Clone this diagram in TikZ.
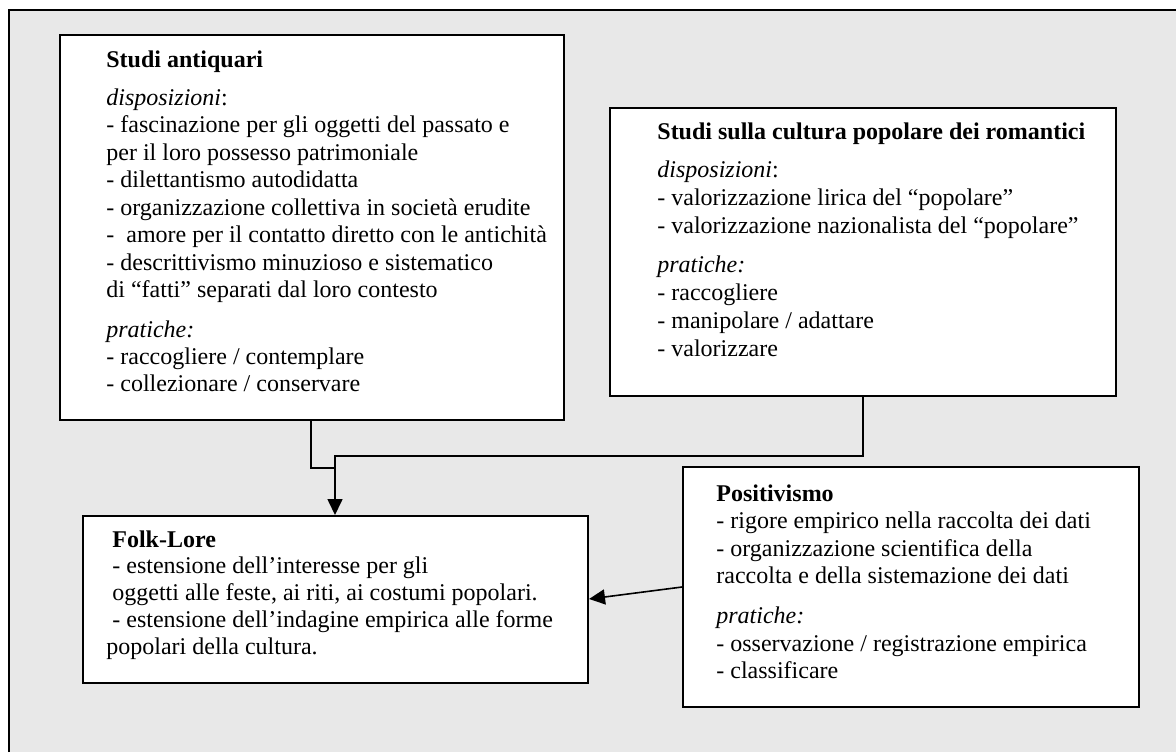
\documentclass[tikz,border=0pt]{standalone}
\usepackage{fontspec}
\setmainfont{Liberation Serif}
\usetikzlibrary{arrows.meta,fit}
\definecolor{panel}{RGB}{232,232,232}
\tikzset{
  box/.style={draw=black, line width=1pt, fill=white, inner sep=0pt},
  txt/.style={anchor=base west, inner sep=0pt, font=\fontsize{12}{13.65}\selectfont},
  head/.style={txt, font=\fontsize{12}{13.65}\selectfont\bfseries},
  link/.style={line width=0.8pt},
  arr/.style={link, -{Triangle[length=8pt,width=7.5pt]}},
}
\begin{document}
\begin{tikzpicture}[x=0.5pt,y=-0.5pt]
\useasboundingbox (0,0) rectangle (1176,752);
% grey panel with its frame
\fill[panel] (9,10) rectangle (1176,752);
\draw[line width=1pt] (9,752) -- (9,10) -- (1176,10);

% boxes
\node[box, fit={(60,35) (564,420)}] (anti) {};
\node[box, fit={(610,108) (1116,396)}] (rom) {};
\node[box, fit={(83,516) (588,683)}] (folk) {};
\node[box, fit={(683,467) (1139,707)}] (posi) {};

% connectors
\coordinate (xa) at (311,0);
\coordinate (xr) at (863,0);
\coordinate (jlow) at (335,468);
\coordinate (jhigh) at (335,456);
\coordinate (ys) at (0,587);
\coordinate (ye) at (0,599);
\draw[link] (anti.south -| xa) |- (jlow);
\draw[arr] (rom.south -| xr) |- (jhigh) -- (folk.north -| jhigh);
\draw[arr] (posi.west |- ys) -- (folk.east |- ye);

% Studi antiquari
\node[head] (a0) at (106,67) {Studi antiquari};
\node[txt] (a1) at (106,105) {\textit{disposizioni}:};
\node[txt] (a2) at (106,132) {- fascinazione per gli oggetti del passato e};
\node[txt] (a3) at (106,160) {per il loro possesso patrimoniale};
\node[txt] (a4) at (106,187) {- dilettantismo autodidatta};
\node[txt] (a5) at (106,215) {- organizzazione collettiva in società erudite};
\node[txt] (a6) at (106,242) {-\ \ amore per il contatto diretto con le antichità};
\node[txt] (a7) at (106,270) {- descrittivismo minuzioso e sistematico};
\node[txt] (a8) at (106,297) {di “fatti” separati dal loro contesto};
\node[txt] (a9) at (106,337) {\textit{pratiche:}};
\node[txt] (a10) at (106,364) {- raccogliere / contemplare};
\node[txt] (a11) at (106,391) {- collezionare / conservare};

% Studi sulla cultura popolare dei romantici
\node[head] (r0) at (657,139) {Studi sulla cultura popolare dei romantici};
\node[txt] (r1) at (657,177) {\textit{disposizioni}:};
\node[txt] (r2) at (657,205) {- valorizzazione lirica del “popolare”};
\node[txt] (r3) at (657,233) {- valorizzazione nazionalista del “popolare”};
\node[txt] (r4) at (657,272) {\textit{pratiche:}};
\node[txt] (r5) at (657,300) {- raccogliere};
\node[txt] (r6) at (657,328) {- manipolare / adattare};
\node[txt] (r7) at (657,356) {- valorizzare};

% Folk-Lore
\node[head] (f0) at (112,547) {Folk-Lore};
\node[txt] (f1) at (112,573) {- estensione dell’interesse per gli};
\node[txt] (f2) at (112,600) {oggetti alle feste, ai riti, ai costumi popolari.};
\node[txt] (f3) at (112,627) {- estensione dell’indagine empirica alle forme};
\node[txt] (f4) at (106,654) {popolari della cultura.};

% Positivismo
\node[head] (p0) at (716,501) {Positivismo};
\node[txt] (p1) at (716,528) {- rigore empirico nella raccolta dei dati};
\node[txt] (p2) at (716,556) {- organizzazione scientifica della};
\node[txt] (p3) at (716,583) {raccolta e della sistemazione dei dati};
\node[txt] (p4) at (716,623) {\textit{pratiche:}};
\node[txt] (p5) at (716,651) {- osservazione / registrazione empirica};
\node[txt] (p6) at (716,678) {- classificare};
\end{tikzpicture}
\end{document}
